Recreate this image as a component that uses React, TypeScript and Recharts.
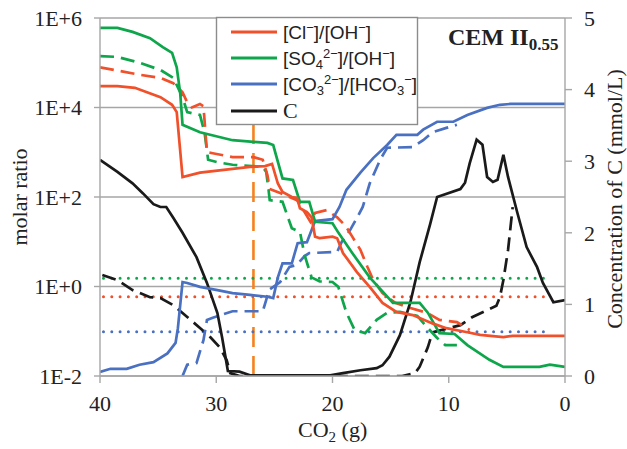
import React from 'react';
import { LineChart, Line, XAxis, YAxis, CartesianGrid, ReferenceLine } from 'recharts';

type P = [number, number];

// x = CO2 (g), y = molar ratio (left, log) or C in mmol/L (right)
const xTicks = [0, 10, 20, 30, 40];
const leftTicks = [0.01, 1, 100, 10000, 1000000];
const leftTickLabels = ['1E-2', '1E+0', '1E+2', '1E+4', '1E+6'];
const rightTicks = [0, 1, 2, 3, 4, 5];
const markerX = 26.8;

const clSolid: P[] = [[40, 30000], [38.5, 30000], [37, 27500], [34.8, 17000], [33.8, 11500], [33.4, 7900], [32.9, 280], [31.4, 350], [27.1, 470], [25.8, 490], [25.2, 550], [24.7, 200], [24.3, 130], [23.5, 100], [23.05, 95], [22.8, 56], [22.2, 46], [21.8, 35], [21.5, 13], [21.1, 12], [20, 13], [19.6, 12], [19.1, 5.6], [17.9, 2.1], [16.8, 0.98], [15.7, 0.43], [14.5, 0.27], [13.1, 0.23], [11.4, 0.15], [10.2, 0.117], [8.4, 0.095], [7.3, 0.083], [5.3, 0.074], [4.5, 0.079], [0, 0.079]];
const clDashed: P[] = [[40, 79000], [36.6, 54000], [34.8, 46000], [33.7, 35000], [32.9, 22000], [32.5, 13000], [32.1, 10000], [31.4, 12000], [31.1, 10700], [30.8, 1000], [30.3, 950], [28.6, 780], [26.8, 780], [26, 680], [25.6, 310], [25.4, 150], [24.5, 123], [23.05, 85], [22.4, 46], [21.9, 28], [21.5, 44], [20.5, 51], [19.6, 35], [18.9, 23], [18.3, 13], [17.6, 6.6], [17, 2.75], [16.5, 1.4], [15.7, 0.71], [14.6, 0.43], [13.3, 0.33], [11.9, 0.26], [10.8, 0.18], [9.3, 0.16], [8.2, 0.107]];
const so4Solid: P[] = [[40, 600000], [38.5, 600000], [37.2, 490000], [35.7, 355000], [34.6, 224000], [33.8, 166000], [33.4, 79000], [33.1, 21000], [32.9, 4100], [31.4, 2800], [28.6, 1860], [26.8, 1700], [25.6, 1620], [25.1, 1450], [24.3, 260], [23.4, 240], [22.8, 78], [22, 78], [21.5, 28], [20, 26], [19.5, 16], [18.3, 5.6], [16.8, 1.6], [14.8, 0.43], [12.5, 0.43], [11.8, 0.26], [10.8, 0.091], [9.5, 0.087], [8.4, 0.049], [6.5, 0.023], [5.3, 0.016], [2.2, 0.016], [1.3, 0.018], [0, 0.016]];
const so4Dashed: P[] = [[40, 141000], [38.5, 135000], [36.6, 100000], [34.8, 69000], [33.7, 46000], [32.9, 17000], [32.5, 7900], [31.4, 6800], [31, 2700], [30.7, 680], [29.9, 600], [28.6, 525], [26, 470], [25.7, 360], [25.5, 145], [25.4, 85], [24.3, 78], [23.5, 20], [22.8, 16.6], [22.4, 5], [21.8, 1.6], [21.1, 1.3], [20, 1.26], [19.5, 0.98], [18.8, 0.26], [18.1, 0.107], [17.2, 0.091], [16.2, 0.18], [15.3, 0.26], [14.2, 0.27], [12.7, 0.22], [11.9, 0.126], [11, 0.071], [10.3, 0.049], [9.3, 0.049]];
const co3Solid: P[] = [[40, 0.0123], [39.1, 0.0145], [37.7, 0.0145], [36.6, 0.0178], [35.4, 0.0204], [34.2, 0.032], [33.5, 0.055], [33.3, 0.117], [32.9, 1.26], [32.5, 1.2], [31.4, 0.98], [29.9, 0.83], [28.6, 0.71], [27.1, 0.65], [25.6, 0.59], [25.1, 0.55], [24.7, 1.6], [24.3, 3.3], [23.5, 3.3], [23, 9.3], [22.2, 9.8], [21.5, 29], [20, 32], [19.4, 60], [18.8, 145], [17.6, 350], [16.5, 740], [15.3, 1450], [14.5, 2450], [12.7, 2450], [12.2, 3200], [11, 4800], [9.6, 4800], [8.4, 6800], [6.7, 9800], [5.6, 11500], [4.7, 12000], [0, 12000]];
const co3Dashed: P[] = [[32.9, 0.01], [32.5, 0.0178], [31.7, 0.0195], [31.1, 0.063], [30.8, 0.178], [30.3, 0.2], [28.6, 0.28], [26, 0.28], [25.7, 0.5], [25.5, 0.83], [24.5, 1.26], [23.7, 2.75], [23.1, 3.0], [22.4, 4.8], [22, 5.6], [19.6, 5.9], [19.2, 10], [18.5, 18], [17.9, 34], [17.4, 60], [16.8, 200], [15.9, 680], [15.3, 1260], [13.1, 1300], [12.2, 1860], [11.4, 2800], [10.2, 3500], [9.3, 4100]];
const cSolid: P[] = [[40, 3.02], [38.5, 2.85], [37.2, 2.69], [36.3, 2.55], [35.4, 2.4], [34.8, 2.36], [34.3, 2.36], [33.7, 2.21], [32.9, 2.0], [31.7, 1.66], [30.8, 1.3], [29.9, 0.88], [29.5, 0.54], [29, 0.07], [28, 0.06], [27.1, 0.01], [20.2, 0.01], [19.1, 0.04], [17.6, 0.08], [16.2, 0.11], [15.7, 0.15], [15.1, 0.27], [14.2, 0.57], [13.3, 1.03], [12.5, 1.59], [11.6, 2.12], [11, 2.5], [9, 2.61], [8.6, 2.7], [8.2, 2.97], [7.6, 3.3], [7.1, 3.23], [6.7, 2.78], [6.2, 2.71], [5.8, 2.74], [5.3, 3.09], [4.9, 2.78], [4.1, 2.28], [3.3, 1.8], [2.4, 1.52], [1.9, 1.3], [1, 1.03], [0, 1.06]];
const cDashed: P[] = [[39.8, 1.41], [38.5, 1.34], [37.2, 1.2], [35.7, 1.1], [34.8, 1.09], [33.7, 0.99], [32.9, 0.88], [31.4, 0.67], [30.5, 0.54], [29.7, 0.4], [29.1, 0.22], [28.8, 0.04], [28, 0.0], [14, 0.0], [12.9, 0.04], [12.5, 0.13], [11.8, 0.4], [11.4, 0.61], [10.2, 0.66], [9, 0.71], [8, 0.82], [6.7, 0.92], [5.9, 0.98], [5.6, 1.1], [5.3, 1.34], [4.9, 1.76], [4.5, 2.36]];
const so4Limit: P[] = [[39.7, 1.52], [1.7, 1.52]];
const clLimit: P[] = [[39.7, 0.59], [1.7, 0.59]];
const co3Limit: P[] = [[39.7, 0.098], [1.7, 0.098]];

const RED = '#F0502A';
const GREEN = '#0EA64B';
const BLUE = '#4A70C2';
const BLACK = '#1A1A1A';
const ORANGE = '#F5821F';
const AXIS = '#A6A6A6';

const toObj = (a: P[]) => a.map(([x, y]) => ({ x, y }));

const serif = 'Liberation Serif, Times New Roman, serif';
const sans = 'Liberation Sans, Arial, sans-serif';
const tickStyle = { fill: '#222', fontSize: 22, fontFamily: serif };

export default function App() {
  const lw = 2.7;
  return (
    <div style={{ position: 'absolute', left: 0, top: 0, width: 627, height: 449, background: '#fff' }}>
      <LineChart width={627} height={449} margin={{ top: 18, right: 22, bottom: 43, left: 40 }}>
        <CartesianGrid yAxisId="left" vertical={false} stroke={AXIS} strokeWidth={1.4} />
        <XAxis dataKey="x" type="number" domain={[0, 40]} reversed ticks={xTicks} interval={0} allowDataOverflow
          height={30} tickSize={7} tickMargin={12} stroke={AXIS} strokeWidth={1.4} tick={tickStyle} />
        <YAxis yAxisId="left" type="number" scale="log" domain={[0.01, 1000000]} ticks={leftTicks} interval={0}
          allowDataOverflow width={60} tickSize={6} tickMargin={12} stroke={AXIS} strokeWidth={1.4} tick={tickStyle}
          tickFormatter={(v: number) => leftTickLabels[leftTicks.indexOf(v)] ?? String(v)} />
        <YAxis yAxisId="right" orientation="right" type="number" domain={[0, 5]} ticks={rightTicks} interval={0}
          allowDataOverflow width={40} tickSize={7} tickMargin={12} stroke={AXIS} strokeWidth={1.4} tick={tickStyle} />
        <ReferenceLine yAxisId="left" x={markerX} stroke={ORANGE} strokeWidth={2.6} strokeDasharray="20 9" />
        <Line yAxisId="left" data={toObj(so4Limit)} dataKey="y" stroke={GREEN} strokeWidth={3} strokeDasharray="0 8.3" strokeLinecap="round" dot={false} isAnimationActive={false} />
        <Line yAxisId="left" data={toObj(clLimit)} dataKey="y" stroke={RED} strokeWidth={3} strokeDasharray="0 8.3" strokeLinecap="round" dot={false} isAnimationActive={false} />
        <Line yAxisId="left" data={toObj(co3Limit)} dataKey="y" stroke={BLUE} strokeWidth={3} strokeDasharray="0 8.3" strokeLinecap="round" dot={false} isAnimationActive={false} />
        <Line yAxisId="right" data={toObj(cDashed)} dataKey="y" stroke={BLACK} strokeWidth={lw} strokeDasharray="14 7" dot={false} isAnimationActive={false} />
        <Line yAxisId="left" data={toObj(co3Dashed)} dataKey="y" stroke={BLUE} strokeWidth={lw} strokeDasharray="14 7" dot={false} isAnimationActive={false} />
        <Line yAxisId="left" data={toObj(so4Dashed)} dataKey="y" stroke={GREEN} strokeWidth={lw} strokeDasharray="14 7" dot={false} isAnimationActive={false} />
        <Line yAxisId="left" data={toObj(clDashed)} dataKey="y" stroke={RED} strokeWidth={lw} strokeDasharray="14 7" dot={false} isAnimationActive={false} />
        <Line yAxisId="right" data={toObj(cSolid)} dataKey="y" stroke={BLACK} strokeWidth={lw} dot={false} isAnimationActive={false} />
        <Line yAxisId="left" data={toObj(co3Solid)} dataKey="y" stroke={BLUE} strokeWidth={lw} dot={false} isAnimationActive={false} />
        <Line yAxisId="left" data={toObj(so4Solid)} dataKey="y" stroke={GREEN} strokeWidth={lw} dot={false} isAnimationActive={false} />
        <Line yAxisId="left" data={toObj(clSolid)} dataKey="y" stroke={RED} strokeWidth={lw} dot={false} isAnimationActive={false} />
      </LineChart>
      <svg width={627} height={449} style={{ position: 'absolute', left: 0, top: 0, pointerEvents: 'none' }}>
        <text transform="translate(27,197) rotate(-90)" textAnchor="middle" fontFamily={serif} fontSize={22} fill="#222">molar ratio</text>
        <text transform="translate(622,199) rotate(-90)" textAnchor="middle" fontFamily={serif} fontSize={22} fill="#222">Concentration of C (mmol/L)</text>
        <text x={298} y={437} fontFamily={serif} fontSize={22} fill="#222">CO<tspan fontSize={15} dy={5}>2</tspan><tspan dy={-5}> (g)</tspan></text>
        <text x={448} y={45} fontFamily={serif} fontSize={24} fontWeight="bold" fill="#222">CEM II<tspan fontSize={17} dy={5}>0.55</tspan></text>
        <g>
          <rect x={216.5} y={17.5} width={201} height={107} fill="#fff" stroke="#8C8C8C" strokeWidth={1.4} />
          <line x1={231} x2={277} y1={32} y2={32} stroke={RED} strokeWidth={3} />
          <line x1={231} x2={277} y1={58} y2={58} stroke={GREEN} strokeWidth={3} />
          <line x1={231} x2={277} y1={84} y2={84} stroke={BLUE} strokeWidth={3} />
          <line x1={231} x2={277} y1={111} y2={111} stroke={BLACK} strokeWidth={3} />
          <text x={283} y={38.5} fontFamily={sans} fontSize={19} fill="#222">[Cl<tspan fontSize={13} dy={-7}>−</tspan><tspan dy={7}>]/[OH</tspan><tspan fontSize={13} dy={-7}>−</tspan><tspan dy={7}>]</tspan></text>
          <text x={283} y={64.5} fontFamily={sans} fontSize={19} fill="#222">[SO<tspan fontSize={13} dy={4}>4</tspan><tspan fontSize={13} dy={-11}>2−</tspan><tspan dy={7}>]/[OH</tspan><tspan fontSize={13} dy={-7}>−</tspan><tspan dy={7}>]</tspan></text>
          <text x={283} y={90.5} fontFamily={sans} fontSize={19} fill="#222">[CO<tspan fontSize={13} dy={4}>3</tspan><tspan fontSize={13} dy={-11}>2−</tspan><tspan dy={7}>]/[HCO</tspan><tspan fontSize={13} dy={4}>3</tspan><tspan fontSize={13} dy={-11}>−</tspan><tspan dy={7}>]</tspan></text>
          <text x={283} y={118} fontFamily={serif} fontSize={22} fill="#222">C</text>
        </g>
      </svg>
    </div>
  );
}
